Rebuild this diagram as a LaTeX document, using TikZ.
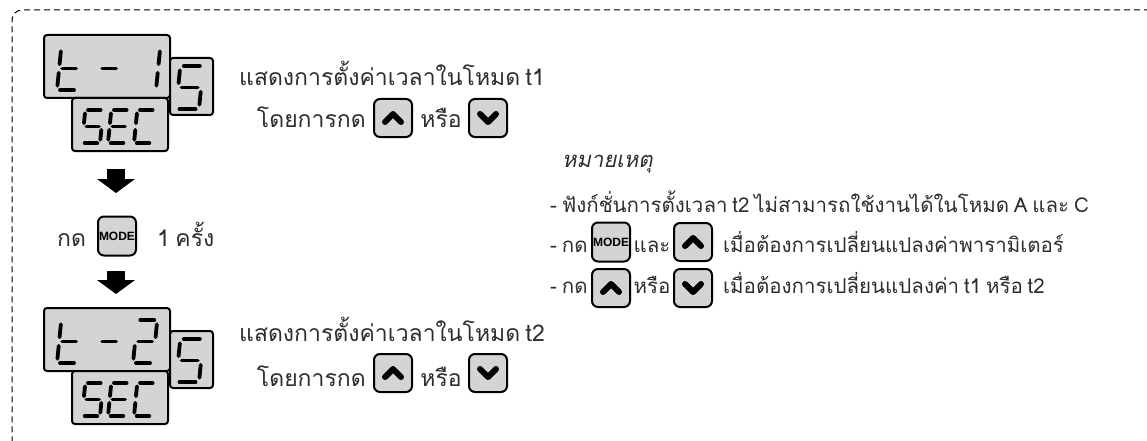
\documentclass[tikz,border=0pt]{standalone}
\usepackage{fontspec}
\usetikzlibrary{arrows.meta}
\newfontfamily\thaifont[Script=Thai,WordSpace=0.7]{Loma}
\newfontfamily\thaiit[Script=Thai,FakeSlant=0.2]{Loma}
\newfontfamily\keyfont{Liberation Sans}
\definecolor{lcdgray}{RGB}{212,212,212}
\definecolor{txtgray}{RGB}{45,45,45}

% seven segment pieces, unit cell
\newcommand{\sega}{(0.15,1) -- (0.85,1)}
\newcommand{\segb}{(1,0.9) -- (1,0.6)}
\newcommand{\segc}{(1,0.4) -- (1,0.1)}
\newcommand{\segd}{(0.15,0) -- (0.85,0)}
\newcommand{\sege}{(0,0.4) -- (0,0.1)}
\newcommand{\segf}{(0,0.9) -- (0,0.6)}
\newcommand{\segg}{(0.15,0.5) -- (0.85,0.5)}
% x, y of lower left corner, width, height, segments
\newcommand{\segdigit}[5]{%
  \begin{scope}[shift={(#1,#2)},x=#3pt,y=#4pt,xslant=0.1]
    \foreach \s in {#5}{\draw[seg] \csname seg\s\endcsname;}
  \end{scope}}

\tikzset{
  lcd/.style={draw,line width=2pt,rounded corners=3pt,fill=lcdgray},
  seg/.style={line width=3.8pt,line cap=round},
  keybtn/.style={draw,line width=2pt,rounded corners=6pt,fill=lcdgray,
    minimum width=38pt,minimum height=38pt,inner sep=0pt},
  chev/.style={line width=6pt,line cap=round,line join=round},
  txt/.style={anchor=base west,inner sep=0pt,text=txtgray,
    font=\thaifont\fontsize{23}{28}\selectfont},
  notetxt/.style={txt,font=\thaifont\fontsize{20.5}{24}\selectfont},
  bigarrow/.style={line width=18pt,
    -{Triangle[width=38pt,length=14pt,line width=0pt]}},
  upkey/.pic={
    \node[keybtn] (-box) {};
    \draw[chev] (-8,4) -- (0,-4) -- (8,4);
  },
  downkey/.pic={
    \node[keybtn] (-box) {};
    \draw[chev] (-8,-4) -- (0,4) -- (8,-4);
  },
  modekey/.pic={
    \node[keybtn,minimum height=39pt,
      font=\keyfont\bfseries\fontsize{12}{12}\selectfont] (-box) {MODE};
  }
}

\begin{document}
\begin{tikzpicture}[x=1pt,y=-1pt]
\useasboundingbox (0,0) rectangle (1147,441);

% frame
\draw[line width=1pt,dash pattern=on 6pt off 4pt,rounded corners=10pt]
  (1160,10) -- (12,10) -- (12,460);

% first display
\begin{scope}
  \draw[lcd] (44,35) rectangle (170,98);
  \draw[lcd] (170,58) rectangle (213,115);
  \draw[lcd] (72,98) rectangle (168,151);
  \segdigit{57}{90}{20}{43}{f,e,g,d}
  \segdigit{97}{90}{20}{43}{g}
  \segdigit{136}{90}{20}{43}{b,c}
  \segdigit{82}{143}{18}{33}{a,f,g,c,d}
  \segdigit{108}{143}{18}{33}{a,f,g,e,d}
  \segdigit{134}{143}{18}{33}{a,f,e,d}
  \segdigit{176}{109}{23}{43}{a,f,g,c,d}
\end{scope}

% second display
\begin{scope}[yshift=-273pt]
  \draw[lcd] (44,35) rectangle (170,98);
  \draw[lcd] (170,58) rectangle (213,115);
  \draw[lcd] (72,98) rectangle (168,151);
  \segdigit{57}{90}{20}{43}{f,e,g,d}
  \segdigit{97}{90}{20}{43}{g}
  \segdigit{133}{90}{20}{43}{a,b,g,e,d}
  \segdigit{82}{143}{18}{33}{a,f,g,c,d}
  \segdigit{108}{143}{18}{33}{a,f,g,e,d}
  \segdigit{134}{143}{18}{33}{a,f,e,d}
  \segdigit{176}{109}{23}{43}{a,f,g,c,d}
\end{scope}

% mode step
\coordinate (arr1a) at (116,169);
\coordinate (arr1b) at (116,193);
\coordinate (arr2a) at (116,271);
\coordinate (arr2b) at (116,294);
\draw[bigarrow] (arr1a) -- (arr1b);
\draw[bigarrow] (arr2a) -- (arr2b);
\node[txt] (press) at (57,246) {กด};
\pic (mode1) at (117,236) {modekey};
\node[txt] (once) at (157,246) {1 ครั้ง};

% t1 text
\node[txt] (desc1) at (239,86) {แสดงการตั้งค่าเวลาในโหมด t1};
\node[txt,anchor=base east] (how1) at (366,127) {โดยการกด};
\pic (up1) at (393,118) {upkey};
\node[txt,anchor=base] (or1) at (441,127) {หรือ};
\pic (down1) at (488,118) {downkey};

% t2 text
\node[txt] (desc2) at (239,341) {แสดงการตั้งค่าเวลาในโหมด t2};
\node[txt,anchor=base east] (how2) at (366,386) {โดยการกด};
\pic (up2) at (393,373) {upkey};
\node[txt,anchor=base] (or2) at (441,386) {หรือ};
\pic (down2) at (488,373) {downkey};

% notes
\node[txt,font=\thaiit\fontsize{22}{26}\selectfont] (note) at (562,167) {หมายเหตุ};
\node[notetxt] (note1) at (550,212) {- ฟังก์ชั่นการตั้งเวลา t2 ไม่สามารถใช้งานได้ในโหมด A และ C};
\node[notetxt] (note2) at (550,252) {- กด};
\pic (mode2) at (611,242) {modekey};
\node[notetxt,anchor=base] (and2) at (652,252) {และ};
\pic (up3) at (693,242) {upkey};
\node[notetxt] (text2) at (723,252) {เมื่อต้องการเปลี่ยนแปลงค่าพารามิเตอร์};
\node[notetxt] (note3) at (550,293) {- กด};
\pic (up4) at (611,288) {upkey};
\node[notetxt,anchor=base] (or3) at (652,293) {หรือ};
\pic (down4) at (693,288) {downkey};
\node[notetxt] (text3) at (723,293) {เมื่อต้องการเปลี่ยนแปลงค่า t1 หรือ t2};

\end{tikzpicture}
\end{document}
